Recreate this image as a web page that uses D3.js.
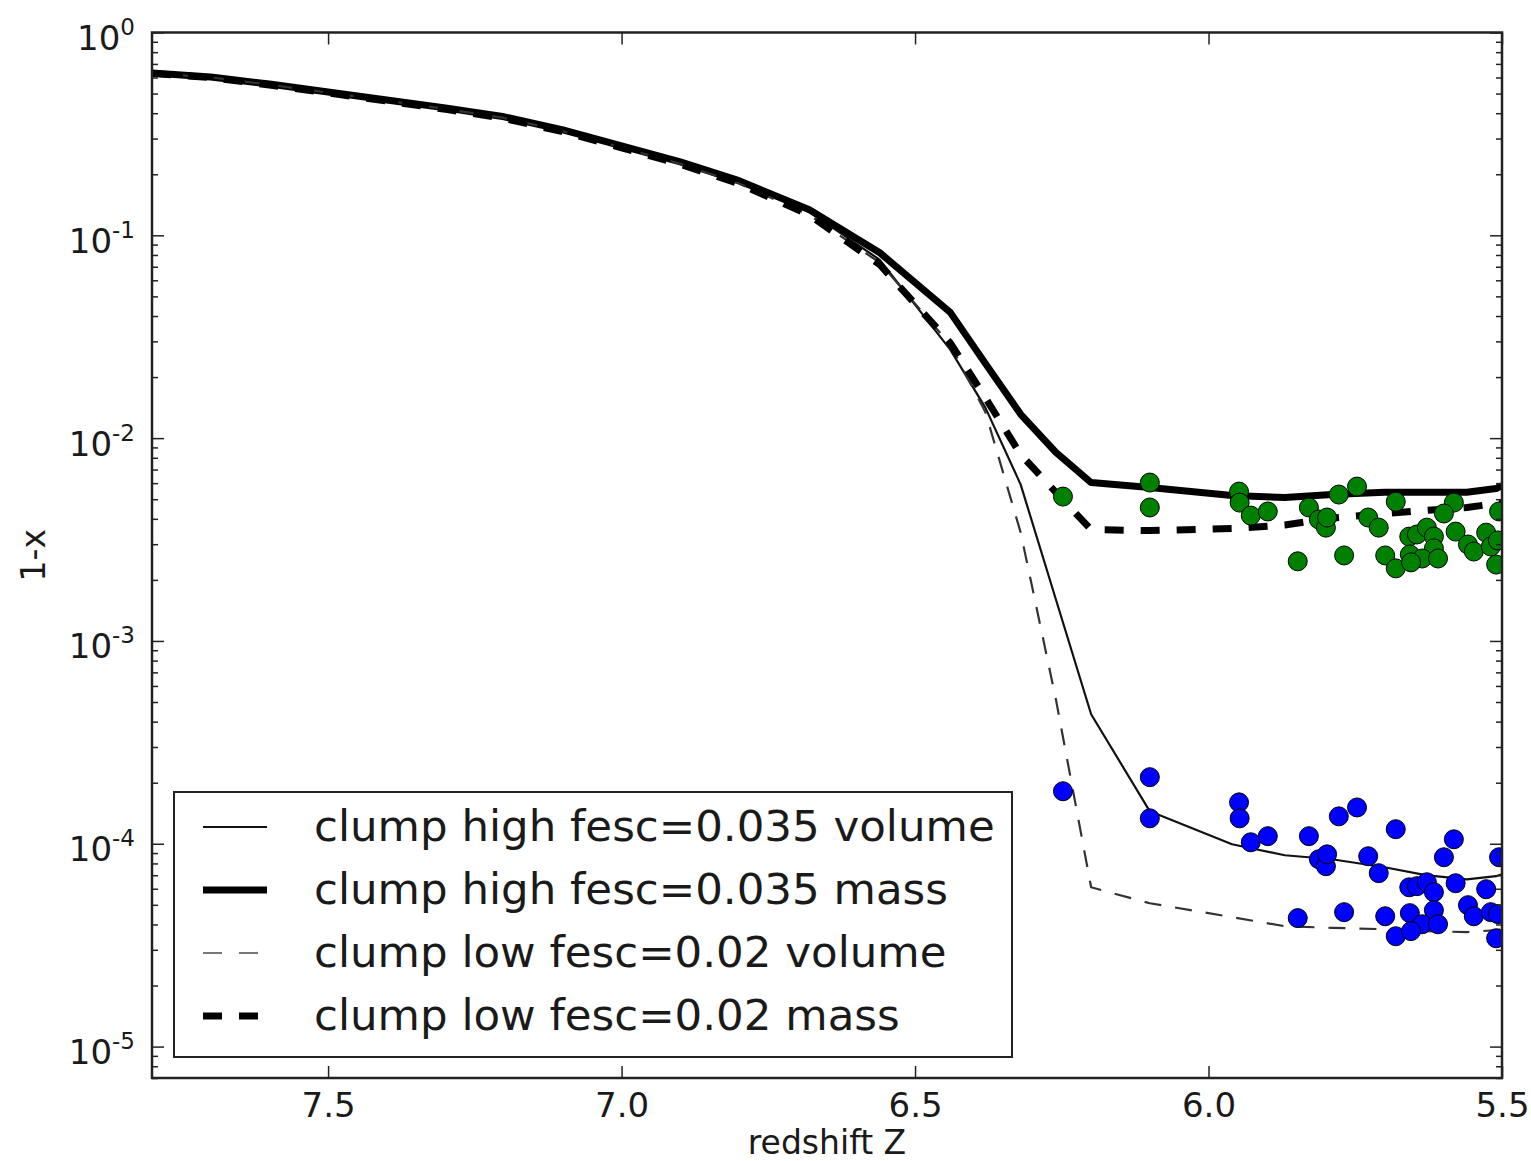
<!DOCTYPE html>
<html>
<head>
<meta charset="utf-8">
<script src="https://cdn.jsdelivr.net/npm/d3@7"></script>
<style>
  body { margin: 0; background: #fff; }
  svg { display: block; }
  text { font-family: "DejaVu Sans", sans-serif; fill: #1a1a1a; }
</style>
</head>
<body>
<div id="main"></div>
<script>
// redshift grid the four model curves are sampled on
var zGrid = [7.8, 7.7, 7.6, 7.5, 7.4, 7.3, 7.2, 7.1, 7.0, 6.9, 6.8, 6.68, 6.56,
             6.44, 6.38, 6.32, 6.26, 6.2, 6.1, 5.96, 5.87, 5.79, 5.7, 5.63, 5.56, 5.51, 5.5];

var highVolume = [0.632, 0.604, 0.557, 0.509, 0.465, 0.425, 0.384, 0.331, 0.276, 0.229, 0.184, 0.1305, 0.0757,
                  0.0273, 0.0141, 0.0059, 0.0016, 4.35e-4, 1.445e-4, 9.95e-5, 8.78e-5, 8.39e-5, 7.66e-5, 7.0e-5, 6.68e-5, 6.92e-5, 7.08e-5];
var highMass   = [0.632, 0.604, 0.557, 0.509, 0.465, 0.425, 0.384, 0.331, 0.276, 0.230, 0.186, 0.1336, 0.082,
                  0.0417, 0.0233, 0.0131, 0.0085, 0.00604, 0.00571, 0.00521, 0.00509, 0.00527, 0.00541, 0.00541, 0.00541, 0.00564, 0.00583];
var lowVolume  = [0.630, 0.601, 0.553, 0.505, 0.461, 0.420, 0.379, 0.326, 0.271, 0.225, 0.180, 0.126, 0.0733,
                  0.0289, 0.0134, 0.00342, 5.15e-4, 6.1e-5, 5.09e-5, 4.35e-5, 3.92e-5, 3.85e-5, 3.79e-5, 3.71e-5, 3.67e-5, 3.75e-5, 3.79e-5];
var lowMass    = [0.628, 0.599, 0.551, 0.503, 0.459, 0.418, 0.377, 0.324, 0.270, 0.224, 0.1795, 0.126, 0.0716,
                  0.0295, 0.0158, 0.0083, 0.0054, 0.00354, 0.00350, 0.00358, 0.00373, 0.00403, 0.00425, 0.0044, 0.00455, 0.00476, 0.00481];

// sightline samples: same redshifts, two measurements each
var sightZ = [6.248, 6.10, 6.10, 5.948, 5.947, 5.928, 5.899, 5.848, 5.829, 5.812, 5.80, 5.798, 5.778,
              5.747, 5.769, 5.728, 5.710, 5.681, 5.699, 5.681, 5.658, 5.645, 5.628, 5.616, 5.657, 5.616,
              5.636, 5.609, 5.655, 5.582, 5.599, 5.579, 5.558, 5.548, 5.527, 5.519, 5.507, 5.510, 5.505];
var greenY = [5.15e-3, 6.04e-3, 4.55e-3, 5.45e-3, 4.81e-3, 4.15e-3, 4.35e-3, 2.47e-3, 4.55e-3, 3.97e-3, 3.62e-3, 4.06e-3, 5.27e-3,
              5.77e-3, 2.64e-3, 4.06e-3, 3.62e-3, 4.86e-3, 2.64e-3, 2.28e-3, 3.27e-3, 3.35e-3, 3.62e-3, 3.27e-3, 2.67e-3, 2.86e-3,
              2.55e-3, 2.55e-3, 2.44e-3, 4.81e-3, 4.25e-3, 3.46e-3, 2.99e-3, 2.76e-3, 3.42e-3, 2.92e-3, 3.13e-3, 2.38e-3, 4.35e-3];
var blueY  = [1.815e-4, 2.13e-4, 1.335e-4, 1.60e-4, 1.335e-4, 1.017e-4, 1.09e-4, 4.30e-5, 1.09e-4, 8.39e-5, 7.75e-5, 8.87e-5, 1.365e-4,
              1.51e-4, 4.60e-5, 8.68e-5, 7.16e-5, 1.18e-4, 4.39e-5, 3.50e-5, 6.10e-5, 6.18e-5, 6.46e-5, 5.77e-5, 4.55e-5, 4.70e-5,
              4.01e-5, 4.01e-5, 3.71e-5, 1.052e-4, 8.58e-5, 6.39e-5, 4.98e-5, 4.39e-5, 5.97e-5, 4.60e-5, 4.50e-5, 3.42e-5, 8.58e-5];

var seriesNames = ["clump high fesc=0.035 volume", "clump high fesc=0.035 mass",
                   "clump low fesc=0.02 volume", "clump low fesc=0.02 mass"];
var xTicks = [7.5, 7.0, 6.5, 6.0, 5.5];
var yMajor = [1, 1e-1, 1e-2, 1e-3, 1e-4, 1e-5];

var W = 1531, H = 1161;
var mLeft = 152, mRight = 1502, mTop = 32.5, mBottom = 1078;

var svg = d3.select("#main").append("svg").attr("width", W).attr("height", H);

var x = d3.scaleLinear().domain([7.8, 5.5]).range([mLeft, mRight]);
var y = d3.scaleLog().domain([7e-6, 1]).range([mBottom, mTop]);

svg.append("clipPath").attr("id", "plotclip")
  .append("rect").attr("x", mLeft).attr("y", mTop)
  .attr("width", mRight - mLeft).attr("height", mBottom - mTop);

var plot = svg.append("g").attr("clip-path", "url(#plotclip)");

var styles = [
  { data: highVolume, width: 2.2, dash: null, color: "#111" },
  { data: highMass, width: 7, dash: null, color: "#000" },
  { data: lowVolume, width: 2.2, dash: "17,14", color: "#333" },
  { data: lowMass, width: 7, dash: "19,17", color: "#000" }
];

var line = d3.line()
  .x(function(d) { return x(d[0]); })
  .y(function(d) { return y(d[1]); });

styles.forEach(function(s) {
  plot.append("path")
    .datum(zGrid.map(function(z, i) { return [z, s.data[i]]; }))
    .attr("d", line)
    .attr("fill", "none")
    .attr("stroke", s.color)
    .attr("stroke-width", s.width)
    .attr("stroke-dasharray", s.dash)
    .attr("stroke-linejoin", "round");
});

function drawDots(vals, fill) {
  plot.selectAll(null)
    .data(sightZ.map(function(z, i) { return [z, vals[i]]; }))
    .enter()
    .append("circle")
    .attr("cx", function(d) { return x(d[0]); })
    .attr("cy", function(d) { return y(d[1]); })
    .attr("r", 9.5)
    .attr("fill", fill)
    .attr("stroke", "#000")
    .attr("stroke-width", 1);
}
drawDots(greenY, "#008000");
drawDots(blueY, "#0000ff");

// minor log ticks
var yMinor = [];
for (var e = -6; e < 0; e++) {
  for (var m = 2; m <= 9; m++) {
    var v = m * Math.pow(10, e);
    if (v >= 7e-6 && v <= 1) yMinor.push(v);
  }
}

function styleAxis(g) {
  g.select(".domain").remove();
  g.selectAll(".tick line").attr("stroke", "#222").attr("stroke-width", 1.5);
}

svg.append("g").attr("transform", "translate(0," + mBottom + ")")
  .call(d3.axisBottom(x).tickValues(xTicks).tickSizeInner(-12).tickSizeOuter(0).tickFormat(d3.format(".1f")))
  .call(styleAxis)
  .call(function(g) {
    g.selectAll(".tick text").attr("y", 39).attr("dy", 0)
      .style("font-size", "34px").attr("fill", "#1a1a1a");
  });

svg.append("g").attr("transform", "translate(0," + mTop + ")")
  .call(d3.axisTop(x).tickValues(xTicks).tickSizeInner(-12).tickSizeOuter(0).tickFormat(""))
  .call(styleAxis);

svg.append("g").attr("transform", "translate(" + mLeft + ",0)")
  .call(d3.axisLeft(y).tickValues(yMinor).tickSizeInner(-6).tickSizeOuter(0).tickFormat(""))
  .call(styleAxis);
svg.append("g").attr("transform", "translate(" + mRight + ",0)")
  .call(d3.axisRight(y).tickValues(yMinor).tickSizeInner(-6).tickSizeOuter(0).tickFormat(""))
  .call(styleAxis);
svg.append("g").attr("transform", "translate(" + mRight + ",0)")
  .call(d3.axisRight(y).tickValues(yMajor).tickSizeInner(-12).tickSizeOuter(0).tickFormat(""))
  .call(styleAxis);

var yAxisG = svg.append("g").attr("transform", "translate(" + mLeft + ",0)")
  .call(d3.axisLeft(y).tickValues(yMajor).tickSizeInner(-12).tickSizeOuter(0).tickFormat(""))
  .call(styleAxis);

yAxisG.selectAll(".tick text").each(function(d) {
  var t = d3.select(this);
  t.attr("x", -17).attr("y", 17).attr("dy", 0).attr("text-anchor", "end").attr("fill", "#1a1a1a");
  t.append("tspan").style("font-size", "34px").text("10");
  t.append("tspan").style("font-size", "23px").attr("dy", -15)
    .text(String(Math.round(Math.log10(d))));
});

// frame
svg.append("rect")
  .attr("x", mLeft).attr("y", mTop)
  .attr("width", mRight - mLeft).attr("height", mBottom - mTop)
  .attr("fill", "none").attr("stroke", "#222").attr("stroke-width", 2.5);

svg.append("text")
  .attr("x", (mLeft + mRight) / 2).attr("y", 1154)
  .attr("text-anchor", "middle").style("font-size", "33px")
  .text("redshift Z");

svg.append("text")
  .attr("transform", "translate(45," + ((mTop + mBottom) / 2) + ") rotate(-90)")
  .attr("text-anchor", "middle").style("font-size", "33px")
  .text("1-x");

// legend
var legend = svg.append("g");
legend.append("rect")
  .attr("x", 174).attr("y", 792).attr("width", 838).attr("height", 265)
  .attr("fill", "#fff").attr("stroke", "#222").attr("stroke-width", 2);

var legendDash = [null, null, "19,17", "19,17"];
seriesNames.forEach(function(name, i) {
  var s = styles[i];
  var cy = 827 + i * 63;
  legend.append("line")
    .attr("x1", 203).attr("y1", cy).attr("y2", cy)
    .attr("x2", legendDash[i] ? 258 : 267)
    .attr("stroke", i === 2 ? "#777" : s.color).attr("stroke-width", s.width)
    .attr("stroke-dasharray", legendDash[i]);
  legend.append("text")
    .attr("x", 314).attr("y", cy + 14)
    .style("font-size", "43.5px")
    .text(name);
});
</script>
</body>
</html>
